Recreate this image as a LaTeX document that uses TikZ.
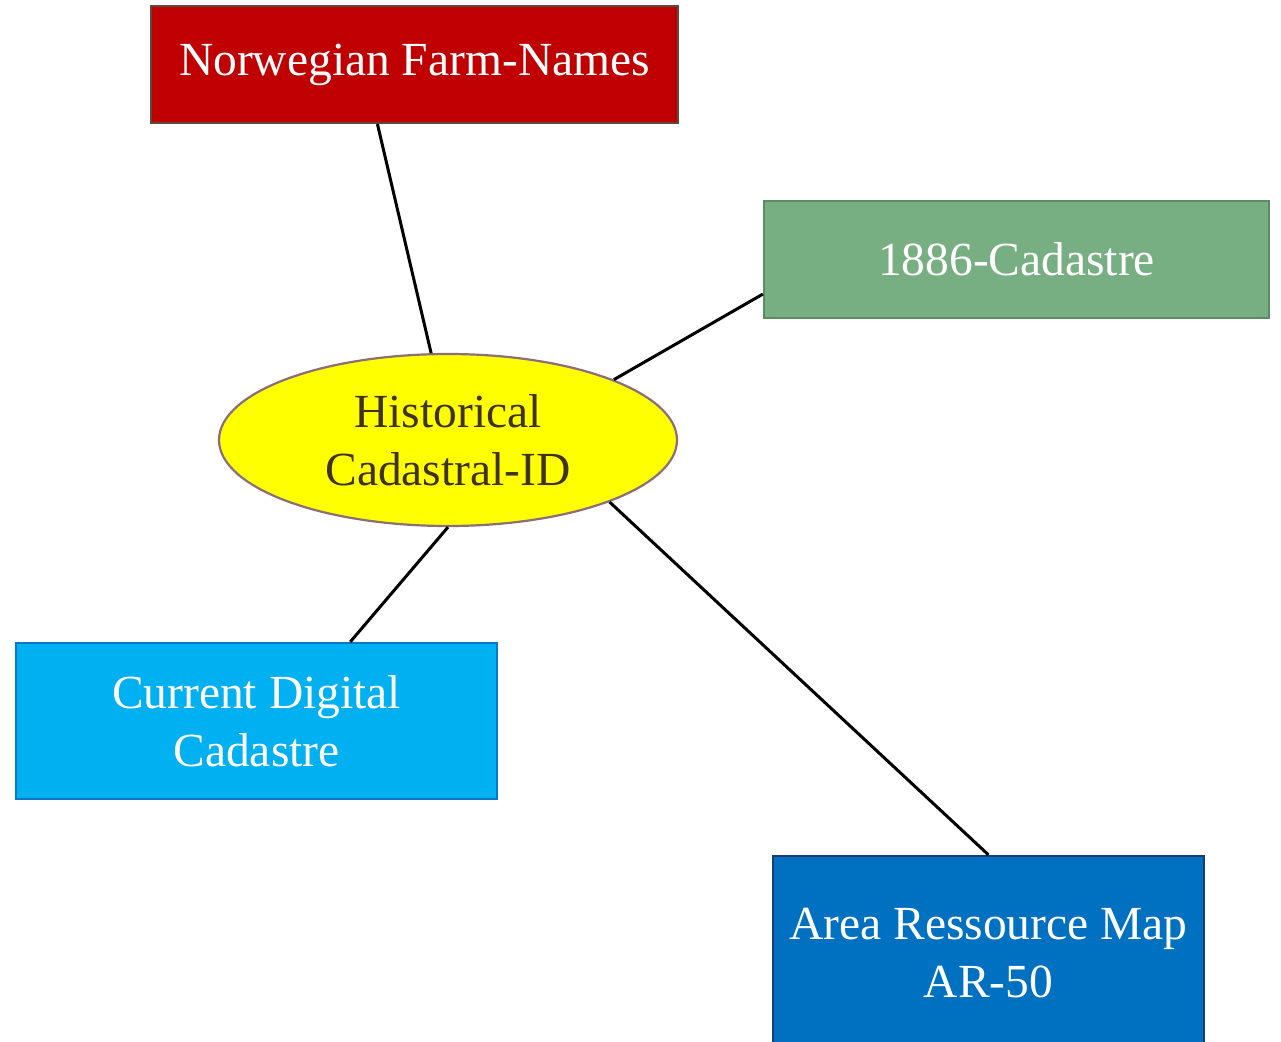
\documentclass[tikz,border=0pt]{standalone}
\usepackage{fontspec}
\setmainfont{Liberation Serif}
\usetikzlibrary{shapes.geometric,calc}
\definecolor{redfill}{HTML}{C00000}
\definecolor{redline}{HTML}{5E4A3C}
\definecolor{greenfill}{HTML}{78AF82}
\definecolor{greenline}{HTML}{5C8C64}
\definecolor{yellowfill}{HTML}{FFFF00}
\definecolor{ellline}{HTML}{8C6E78}
\definecolor{elltext}{HTML}{3F3220}
\definecolor{cyanfill}{HTML}{00B0F0}
\definecolor{cyanline}{HTML}{0A78C8}
\definecolor{bluefill}{HTML}{0070C0}
\definecolor{blueline}{HTML}{1A3C78}
\tikzset{
  box/.style={draw, line width=2.2pt, inner sep=0pt, align=center, text=white,
    font=\fontsize{47.5}{58}\selectfont},
  link/.style={draw=black, line width=3pt},
}
\begin{document}
\begin{tikzpicture}[x=1pt,y=-1pt]
\useasboundingbox (0,0) rectangle (1281,1041);
\begin{scope}
\clip (0,0) rectangle (1281,1041);
\node[box, fill=redfill, draw=redline, minimum width=527pt, minimum height=117pt] (red) at (414.5,64.5) {Norwegian Farm-Names};
\node[box, fill=greenfill, draw=greenline, minimum width=505pt, minimum height=117pt] (green) at (1016.5,259.5) {1886-Cadastre};
\node[box, ellipse, fill=yellowfill, draw=ellline, text=elltext, minimum width=458pt, minimum height=172pt] (hist) at (448,440) {Historical\\Cadastral-ID};
\node[box, fill=cyanfill, draw=cyanline, minimum width=481pt, minimum height=156pt] (cur) at (256.5,721) {Current Digital\\Cadastre};
\node[box, fill=bluefill, draw=blueline, minimum width=431pt, minimum height=194pt] (ar) at (988.5,953) {Area Ressource Map\\AR-50};
\end{scope}
\draw[link] ($(red.south west)!0.43!(red.south east)$) -- (hist.101.7);
\draw[link] ($(green.south west)!0.21!(green.north west)$) -- (hist.20.8);
\draw[link] (hist.south) -- ($(cur.north west)!0.694!(cur.north east)$);
\draw[link] (hist.-21) -- (ar.north);
\end{tikzpicture}
\end{document}
